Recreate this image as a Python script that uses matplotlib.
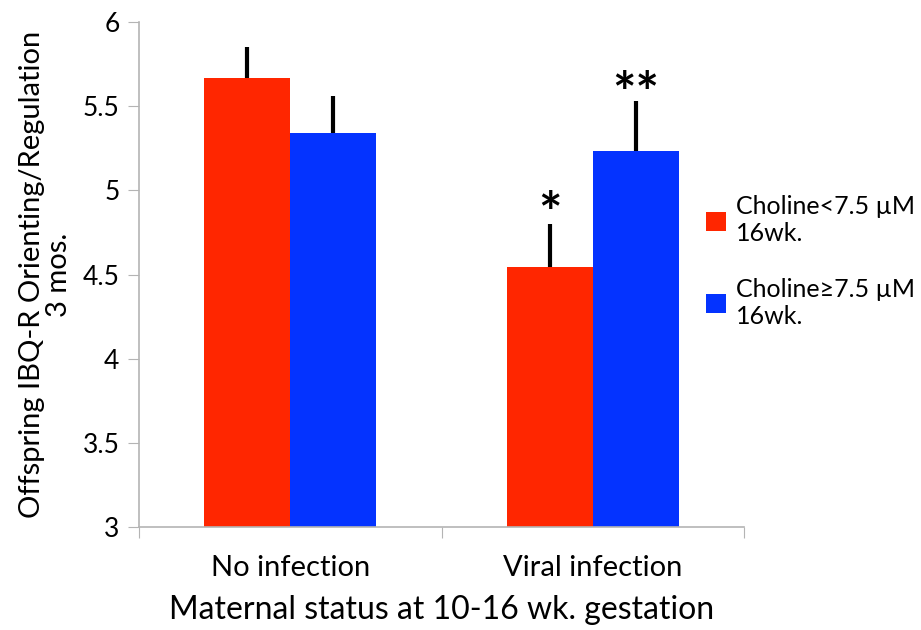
import numpy as np
import matplotlib
matplotlib.use('Agg')
import matplotlib.pyplot as plt
from matplotlib.patches import Patch

plt.rcParams['font.family'] = ['Lato', 'DejaVu Sans']

###### data ######
groups = ['No infection', 'Viral infection']
series = ['Choline<7.5 µM\n16wk.', 'Choline≥7.5 µM\n16wk.']
low_choline = [5.67, 4.546]
low_err = [0.18, 0.254]
high_choline = [5.341, 5.234]
high_err = [0.218, 0.295]
stars_low = ['', '*']
stars_high = ['', '**']

colors = ['#ff2600', '#0433ff']
axis_grey = '#b4b4b4'

fig = plt.figure(figsize=(9.21, 6.3), dpi=100)
ax = fig.add_axes([139/921, 1 - 527/630, (744 - 139)/921, (527 - 22)/630])

x = np.arange(len(groups))
w = 0.285
err_kw = dict(ecolor='black', elinewidth=3, capsize=0)
ax.bar(x - w/2, low_choline, w, color=colors[0],
       yerr=[np.zeros(2), low_err], error_kw=err_kw)
ax.bar(x + w/2, high_choline, w, color=colors[1],
       yerr=[np.zeros(2), high_err], error_kw=err_kw)

# significance stars
for i in range(len(groups)):
    ax.text(x[i] - w/2, low_choline[i] + low_err[i] - 0.1, stars_low[i],
            ha='center', va='bottom', fontsize=40, fontweight='bold')
    ax.text(x[i] + w/2, high_choline[i] + high_err[i] - 0.12, stars_high[i],
            ha='center', va='bottom', fontsize=40, fontweight='bold')

ax.set_xlim(-0.5, 1.5)
ax.set_ylim(3, 6)
ax.set_yticks([3, 3.5, 4, 4.5, 5, 5.5, 6])
ax.set_yticklabels(['3', '3.5', '4', '4.5', '5', '5.5', '6'])
ax.set_xticks([-0.5, 0.5, 1.5], minor=False)
ax.set_xticklabels([])
ax.set_xticks(x, minor=True)
ax.set_xticklabels(groups, minor=True, fontsize=21)
ax.tick_params(axis='x', which='minor', length=0, pad=20)
ax.tick_params(axis='x', which='major', length=8, color=axis_grey)
ax.tick_params(axis='y', length=8, color=axis_grey, labelsize=19, pad=6)

for s in ['top', 'right']:
    ax.spines[s].set_visible(False)
for s in ['left', 'bottom']:
    ax.spines[s].set_color(axis_grey)
    ax.spines[s].set_linewidth(1.2)

ax.set_xlabel('Maternal status at 10-16 wk. gestation', fontsize=23, labelpad=10)
ax.set_ylabel('Offspring IBQ-R Orienting/Regulation\n3 mos.', fontsize=21,
              labelpad=8, linespacing=1.05)

handles = [Patch(facecolor=c) for c in colors]
fig.legend(handles, series, loc='upper left', bbox_to_anchor=(688/921, 1 - 178/630),
           frameon=False, fontsize=18, handlelength=0.8, handleheight=0.8,
           handletextpad=0.4, labelspacing=1.3, borderpad=0.2)

plt.savefig('out.png', dpi=100)
